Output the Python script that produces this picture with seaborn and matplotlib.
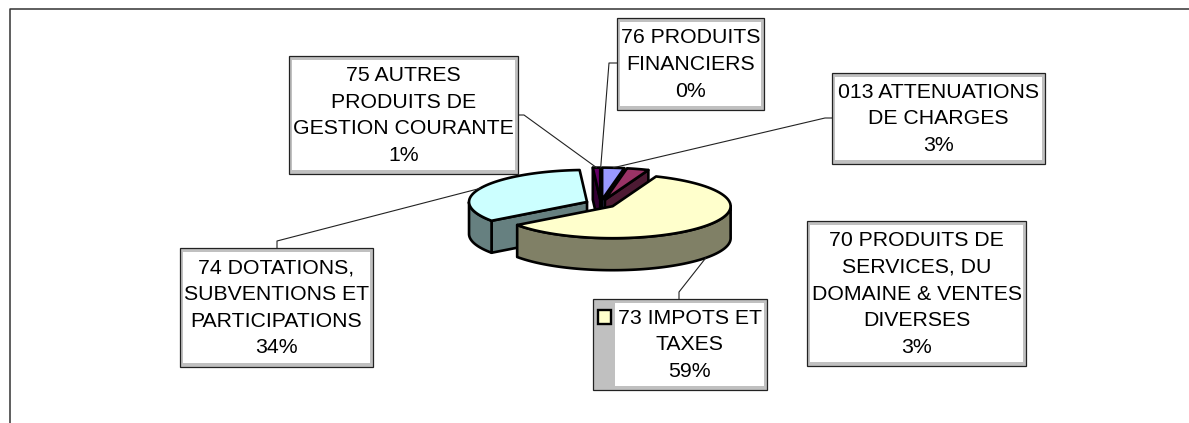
import numpy as np
import matplotlib
matplotlib.use('Agg')
import matplotlib.pyplot as plt
from matplotlib.patches import Rectangle
import seaborn as sns

# slices, clockwise from the yellow one
categories = ['73 IMPOTS ET\nTAXES',
              '74 DOTATIONS,\nSUBVENTIONS ET\nPARTICIPATIONS',
              '75 AUTRES\nPRODUITS DE\nGESTION COURANTE',
              '76 PRODUITS\nFINANCIERS',
              '013 ATTENUATIONS\nDE CHARGES',
              '70 PRODUITS DE\nSERVICES, DU\nDOMAINE & VENTES\nDIVERSES']
values = [59, 34, 1, 0, 3, 3]
colors = ['#FFFFCC', '#CCFFFF', '#660066', '#FF8080', '#9999FF', '#993366']

# layout in pixels: box (left, top, right, bottom)
boxes = [(593, 299, 767, 390), (180, 248, 373, 367), (289, 56, 518, 174),
         (617, 18, 764, 110), (832, 73, 1045, 164), (807, 221, 1026, 366)]
# leader starts at the box edge, then an elbow
leader_start = [(679, 299), (277, 248), (518, 115), (617, 63), (832, 118), None]
leader_elbow = [(679, 292), (277, 241), (524, 115), (609, 63), (825, 118), None]

cx, cy = 600.7, 203.7
a, b = 118, 32
depth = 32
explode = 0.128
start_angle = 68.4


def arc(x0, y0, t1, t2, n=80):
    t = np.radians(np.linspace(t1, t2, n))
    return x0 + a * np.cos(t), y0 - b * np.sin(t)


def side_face(xs, ys, color):
    ax.fill(np.r_[xs, xs[::-1]], np.r_[ys, ys[::-1] + depth], facecolor=color,
            edgecolor='black', lw=1.9, joinstyle='round')


sns.set_theme(style='white')
plt.rcParams['font.family'] = ['Liberation Sans', 'DejaVu Sans']
palette = sns.color_palette(colors)

fig = plt.figure(figsize=(11.89, 4.23), dpi=100)
ax = fig.add_axes([0, 0, 1, 1])
ax.set_xlim(0, 1189)
ax.set_ylim(423, 0)
ax.axis('off')

# chart frame, open at the right and the bottom
ax.plot([9.5, 9.5, 1189], [423, 9.5, 9.5], color='#333333', lw=1.1)

# slice angles
sweeps = np.array(values) / sum(values) * 360
ends = start_angle - np.cumsum(sweeps) + 360
starts = np.r_[start_angle + 360, ends[:-1]]
mids = (starts + ends) / 2

apex = []
for m in mids:
    apex.append((cx + explode * a * np.cos(np.radians(m)),
                 cy - explode * b * np.sin(np.radians(m))))

# back to front: blue, then the small slices, yellow last
for i in [1, 2, 3, 4, 5, 0]:
    if values[i] == 0:
        continue
    x0, y0 = apex[i]
    top = palette[i]
    dark = tuple(c * 0.5 for c in top)
    t_hi, t_lo = starts[i], ends[i]
    # cut faces that turn toward the viewer
    if np.cos(np.radians(t_lo)) > 0:
        xe, ye = arc(x0, y0, t_lo, t_lo, 1)
        side_face(np.array([x0, xe[0]]), np.array([y0, ye[0]]), dark)
    if np.cos(np.radians(t_hi)) < 0:
        xe, ye = arc(x0, y0, t_hi, t_hi, 1)
        side_face(np.array([x0, xe[0]]), np.array([y0, ye[0]]), dark)
    # outer wall, front half of the ellipse only
    for k in (0, 360):
        lo, hi = max(t_lo, 180 + k), min(t_hi, 360 + k)
        if hi > lo:
            xs, ys = arc(x0, y0, lo, hi)
            side_face(xs, ys, dark)
    xs, ys = arc(x0, y0, t_lo, t_hi)
    ax.fill(np.r_[x0, xs], np.r_[y0, ys], facecolor=top, edgecolor='black',
            lw=1.9, joinstyle='round')

# labels
for i, cat in enumerate(categories):
    l, t, r, bt = boxes[i]
    ax.add_patch(Rectangle((l, t), r - l, bt - t, facecolor='#C0C0C0',
                           edgecolor='#222222', lw=0.9, zorder=5))
    left_inset = 22 if i == 0 else 3
    ax.add_patch(Rectangle((l + left_inset, t + 4), r - l - left_inset - 3, bt - t - 8,
                           facecolor='white', edgecolor='none', zorder=6))
    tx = (l + left_inset + r - 3) / 2
    ax.text(tx, (t + bt) / 2 + 0.5, cat + '\n' + str(values[i]) + '%', ha='center', va='center',
            fontsize=15.3, color='black', linespacing=1.51, zorder=7)
    if leader_start[i] is not None:
        ex = apex[i][0] + a * np.cos(np.radians(mids[i]))
        ey = apex[i][1] - b * np.sin(np.radians(mids[i]))
        if np.sin(np.radians(mids[i])) < 0:
            ey += depth
        ax.plot([leader_start[i][0], leader_elbow[i][0], ex],
                [leader_start[i][1], leader_elbow[i][1], ey],
                color='#222222', lw=0.8, zorder=1 if i != 0 else 4)

# legend key inside the 73 label
ax.add_patch(Rectangle((597.5, 310.5), 13.5, 13.5, facecolor=palette[0],
                       edgecolor='black', lw=1.7, zorder=8))

fig.savefig('out.png', dpi=100)
plt.close()
